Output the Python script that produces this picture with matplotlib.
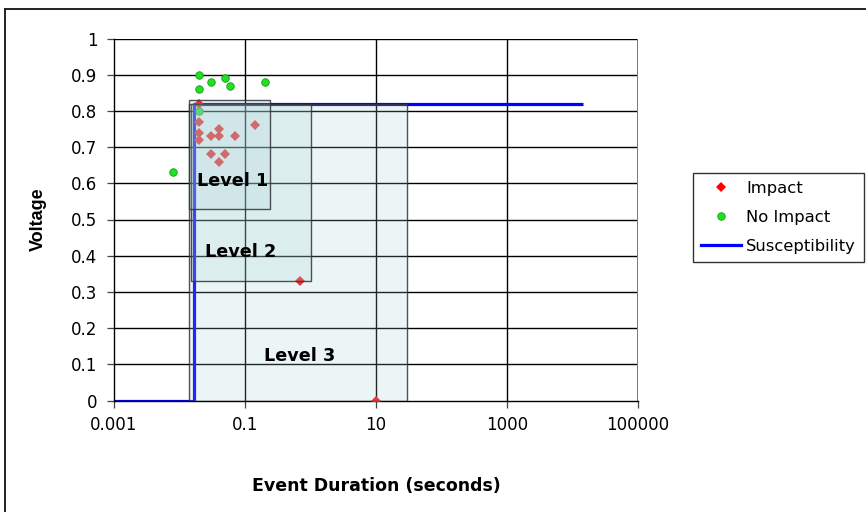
import matplotlib
matplotlib.use("Agg")
import matplotlib.pyplot as plt
from matplotlib.patches import Rectangle
from matplotlib.lines import Line2D
from matplotlib.ticker import FixedLocator, NullLocator

plt.rcParams['font.family'] = ['DejaVu Sans']

# Events that caused an impact
impact_dur = [0.02, 0.02, 0.02, 0.02, 0.03, 0.04, 0.04, 0.07, 0.14, 0.03, 0.05, 0.04, 0.7, 10]
impact_v = [0.82, 0.77, 0.74, 0.72, 0.73, 0.75, 0.73, 0.73, 0.76, 0.68, 0.68, 0.66, 0.33, 0.0]

# Events with no impact
no_impact_dur = [0.02, 0.03, 0.05, 0.06, 0.02, 0.2, 0.008, 0.02]
no_impact_v = [0.90, 0.88, 0.89, 0.87, 0.86, 0.88, 0.63, 0.80]

# Susceptibility curve
sus_dur = [0.001, 0.0167, 0.0167, 14400]
sus_v = [0.0, 0.0, 0.82, 0.82]

# Severity level regions (duration range, voltage range)
level_names = ['Level 1', 'Level 2', 'Level 3']
level_dur_lo = [0.014, 0.015, 0.014]
level_dur_hi = [0.24, 1.0, 30]
level_v_lo = [0.53, 0.33, 0.0]
level_v_hi = [0.83, 0.82, 0.82]
level_label_dur = [0.064, 0.086, 0.68]
level_label_v = [0.605, 0.41, 0.123]

x_ticks = [0.001, 0.1, 10, 1000, 100000]
x_tick_labels = ['0.001', '0.1', '10', '1000', '100000']
y_ticks = [0, 0.1, 0.2, 0.3, 0.4, 0.5, 0.6, 0.7, 0.8, 0.9, 1]
y_tick_labels = ['0', '0.1', '0.2', '0.3', '0.4', '0.5', '0.6', '0.7', '0.8', '0.9', '1']

W, H = 866, 512
fig = plt.figure(figsize=(W / 100, H / 100), dpi=100)
ax = fig.add_axes([114 / W, (H - 400.5) / H, (638 - 114) / W, (400.5 - 38.5) / H])

ax.set_xscale('log')
ax.set_xlim(0.001, 100000)
ax.set_ylim(0, 1)

# gridlines
for yv in y_ticks[1:]:
    ax.axhline(yv, color='black', lw=1.0, zorder=1)
for xv in x_ticks[1:-1]:
    ax.axvline(xv, color='black', lw=1.0, zorder=1)
ax.axvline(x_ticks[-1], color='#777777', lw=1.4, zorder=1)

# data series
ax.plot(sus_dur, sus_v, color='#0000FF', lw=2.3, zorder=2, solid_capstyle='butt')
ax.plot(impact_dur, impact_v, linestyle='none', marker='D', markersize=5.2,
        color='#FF1010', markeredgewidth=0, zorder=3)
ax.plot(no_impact_dur, no_impact_v, linestyle='none', marker='o', markersize=5.4,
        markerfacecolor='#22E022', markeredgecolor='#0E9E0E', markeredgewidth=0.6, zorder=3)

# translucent level regions, largest first
for i in [2, 1, 0]:
    ax.add_patch(Rectangle((level_dur_lo[i], level_v_lo[i]),
                           level_dur_hi[i] - level_dur_lo[i],
                           level_v_hi[i] - level_v_lo[i],
                           facecolor=(160 / 255, 205 / 255, 210 / 255, 0.2),
                           edgecolor=(0.2, 0.2, 0.2, 0.85), lw=1.0, zorder=4))
for name, xd, yd in zip(level_names, level_label_dur, level_label_v):
    ax.text(xd, yd, name, ha='center', va='center', fontsize=12.7,
            fontweight='bold', color='black', zorder=5)

# axes styling
for s in ['top', 'right']:
    ax.spines[s].set_visible(False)
ax.spines['left'].set_linewidth(1.0)
ax.spines['bottom'].set_linewidth(1.0)
ax.xaxis.set_major_locator(FixedLocator(x_ticks))
ax.xaxis.set_minor_locator(NullLocator())
ax.set_xticklabels(x_tick_labels)
ax.set_yticks(y_ticks)
ax.set_yticklabels(y_tick_labels)
ax.tick_params(axis='both', direction='out', length=5, width=0.9, labelsize=12,
               color='#444444')
ax.tick_params(axis='y', pad=7)
ax.tick_params(axis='x', pad=6)

ax.set_xlabel('Event Duration (seconds)', fontsize=12.5, fontweight='bold', labelpad=31)
ax.set_ylabel('Voltage', fontsize=13, fontweight='bold', family=['Liberation Sans'],
              labelpad=17)

# legend
handles = [
    Line2D([], [], linestyle='none', marker='D', markersize=5.2, color='#FF0000',
           markeredgewidth=0),
    Line2D([], [], linestyle='none', marker='o', markersize=5.4,
           markerfacecolor='#22E022', markeredgecolor='#0E9E0E', markeredgewidth=0.6),
    Line2D([], [], color='#0000FF', lw=2.3),
]
leg = fig.legend(handles, ['Impact', 'No Impact', 'Susceptibility'],
                 loc='upper left', bbox_to_anchor=(693 / W, 1 - 173 / H),
                 frameon=True, fancybox=False, shadow=False, fontsize=11.8,
                 handlelength=2.4, handletextpad=0.35, labelspacing=0.85,
                 borderpad=0.5, borderaxespad=0)
leg.get_frame().set_edgecolor('black')
leg.get_frame().set_linewidth(1.0)

# chart area border
fig.add_artist(Line2D([5 / W, 5 / W], [0, 1 - 9 / H], color='#222222', lw=1.4,
                      transform=fig.transFigure))
fig.add_artist(Line2D([5 / W, 1], [1 - 9 / H, 1 - 9 / H], color='#222222', lw=1.4,
                      transform=fig.transFigure))

fig.savefig('out.png', dpi=100)
